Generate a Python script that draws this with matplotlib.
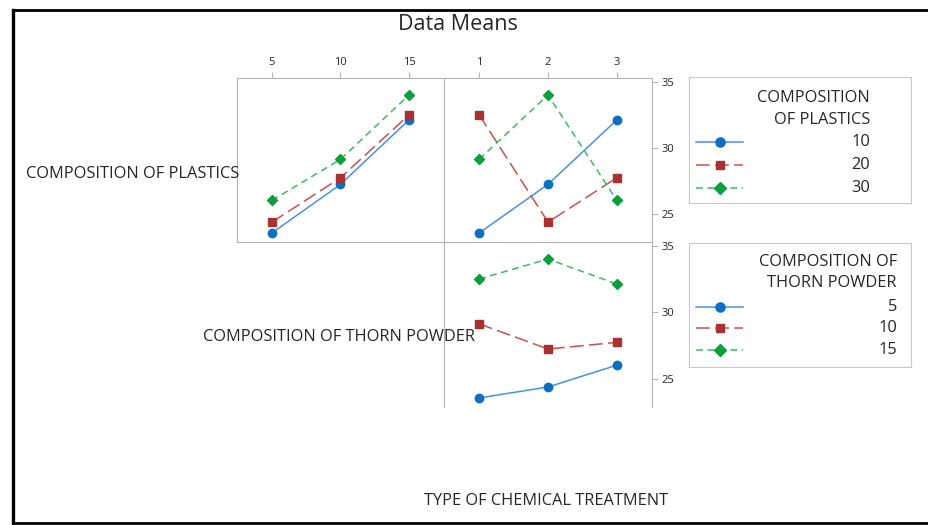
import matplotlib
matplotlib.use('Agg')
import matplotlib.pyplot as plt
import pandas as pd
from matplotlib.lines import Line2D

# L9 design, one run per row
plastics = [10, 10, 10, 20, 20, 20, 30, 30, 30]
thorn = [5, 10, 15, 5, 10, 15, 5, 10, 15]
chem = [1, 2, 3, 2, 3, 1, 3, 1, 2]
response = [23.58, 27.25, 32.12, 24.4, 27.75, 32.5, 26.04, 29.14, 34.0]

plastic_levels = [10, 20, 30]
thorn_levels = [5, 10, 15]
chem_levels = [1, 2, 3]
y_ticks = [25, 30, 35]

df = pd.DataFrame({'P': plastics, 'T': thorn, 'C': chem, 'Y': response})

W, H = 929, 525
plt.rcParams['font.family'] = ['Open Sans', 'DejaVu Sans']
TXT = '#262626'
GRID = '#b4b4b4'
LBL = 11.8

styles = [
    dict(lc='#4a90e2', mc='#0b6fbf', ls='-', marker='o', ms=6.0),
    dict(lc='#c85050', mc='#a83232', ls=(0, (9, 3.5)), marker='s', ms=5.6),
    dict(lc='#3dbb5e', mc='#0a9e3c', ls=(0, (4.5, 3)), marker='D', ms=5.4),
]


def box(x0, y0, x1, y1):
    return [x0 / W, 1 - y1 / H, (x1 - x0) / W, (y1 - y0) / H]


fig = plt.figure(figsize=(W / 100, H / 100), dpi=100)

ax1 = fig.add_axes(box(237, 78, 444, 242))
ax2 = fig.add_axes(box(444, 78, 652, 242))
ax3 = fig.add_axes(box(444, 242, 652, 407))


def panel(ax, xcol, lcol, levels, xlevels):
    means = df.groupby([lcol, xcol])['Y'].mean()
    for lev, st in zip(levels, styles):
        vals = [means[(lev, x)] for x in xlevels]
        ax.plot(xlevels, vals, color=st['lc'], ls=st['ls'], lw=1.1, zorder=2)
        ax.plot(xlevels, vals, ls='none', marker=st['marker'], ms=st['ms'],
                color=st['mc'], zorder=3)


panel(ax1, 'T', 'P', plastic_levels, thorn_levels)
panel(ax2, 'C', 'P', plastic_levels, chem_levels)
panel(ax3, 'C', 'T', thorn_levels, chem_levels)

ax1.set_xlim(2.45, 17.55)
ax2.set_xlim(0.49, 3.51)
ax3.set_xlim(0.49, 3.51)
for ax in (ax1, ax2, ax3):
    ax.set_ylim(22.9, 35.28)
    for s in ax.spines.values():
        s.set_color(GRID)
        s.set_linewidth(0.8)
    ax.tick_params(colors=GRID, labelcolor=TXT, labelsize=8, length=4, width=0.8)
    ax.patch.set_alpha(0)

ax1.spines['right'].set_visible(False)
ax3.spines['bottom'].set_visible(False)

ax1.set_xticks(thorn_levels)
ax1.xaxis.tick_top()
ax1.set_yticks([])
ax2.set_xticks(chem_levels)
ax2.xaxis.tick_top()
ax2.yaxis.tick_right()
ax2.set_yticks(y_ticks)
ax3.set_xticks([])
ax3.yaxis.tick_right()
ax3.set_yticks(y_ticks)
for ax in (ax2, ax3):
    ax.tick_params(axis='y', pad=3)

# diagonal labels and title
fig.text(458 / W, 1 - 24 / H, 'Data Means', ha='center', va='center', fontsize=15.5, color=TXT)
fig.text(133 / W, 1 - 174 / H, 'COMPOSITION OF PLASTICS', ha='center', va='center', fontsize=LBL, color=TXT)
fig.text(339 / W, 1 - 337 / H, 'COMPOSITION OF THORN POWDER', ha='center', va='center', fontsize=LBL, color=TXT)
fig.text(546 / W, 1 - 501 / H, 'TYPE OF CHEMICAL TREATMENT', ha='center', va='center', fontsize=LBL, color=TXT)


# legends
def legend_box(y0, y1, title, levels, right, ys):
    lax = fig.add_axes(box(689, y0, 911, y1))
    lax.set_xlim(689, 911)
    lax.set_ylim(y1, y0)
    lax.set_xticks([])
    lax.set_yticks([])
    for s in lax.spines.values():
        s.set_color('#c8c8c8')
        s.set_linewidth(0.8)
    lax.text(right, ys[0], title[0], ha='right', va='center', fontsize=LBL, color=TXT)
    lax.text(right, ys[1], title[1], ha='right', va='center', fontsize=LBL, color=TXT)
    for lev, st, yy in zip(levels, styles, ys[2:]):
        lax.add_line(Line2D([696, 743], [yy, yy], color=st['lc'], ls=st['ls'], lw=1.1))
        lax.add_line(Line2D([720], [yy], ls='none', marker=st['marker'], ms=st['ms'] + 0.6,
                            color=st['mc']))
        lax.text(right, yy, str(lev), ha='right', va='center', fontsize=LBL, color=TXT)


legend_box(77, 203, ['COMPOSITION', 'OF PLASTICS'], plastic_levels, 870, [98, 120, 142, 165, 188])
legend_box(243, 367, ['COMPOSITION OF', 'THORN POWDER'], thorn_levels, 897, [262, 283, 307, 328, 350])

# outer black frame (top, left, bottom)
fig.add_artist(Line2D([13.5 / W, 13.5 / W], [1 - 10 / H, 1 - 523 / H], color='black', lw=2.4))
fig.add_artist(Line2D([13.5 / W, 1], [1 - 10 / H, 1 - 10 / H], color='black', lw=2.0))
fig.add_artist(Line2D([13.5 / W, 1], [1 - 523 / H, 1 - 523 / H], color='black', lw=2.0))

fig.savefig('out.png', dpi=100)
